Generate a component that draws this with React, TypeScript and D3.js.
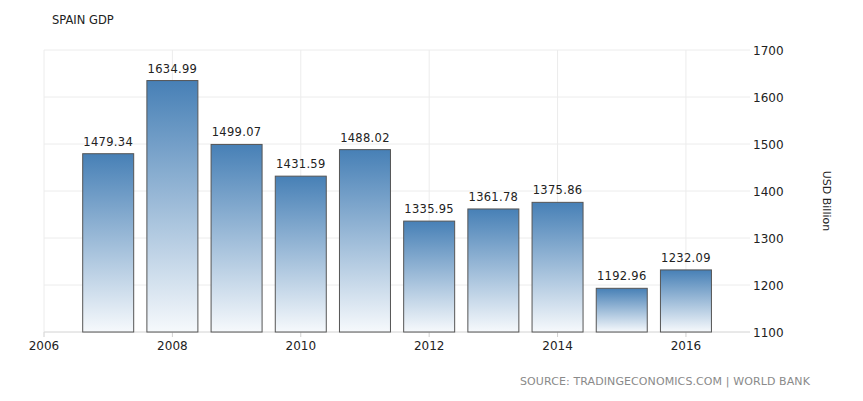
import React from "react";
import * as d3 from "d3";

const years = [2007, 2008, 2009, 2010, 2011, 2012, 2013, 2014, 2015, 2016];
const gdp = [1479.34, 1634.99, 1499.07, 1431.59, 1488.02, 1335.95, 1361.78, 1375.86, 1192.96, 1232.09];
const yTicks = [1100, 1200, 1300, 1400, 1500, 1600, 1700];
const xTicks = [2006, 2008, 2010, 2012, 2014, 2016];

const W = 863;
const H = 401;
const font = "'DejaVu Sans', Verdana, sans-serif";

export default function App() {
  const x = d3.scaleLinear().domain([2006, 2016.92]).range([44, 745]);
  const y = d3.scaleLinear().domain([1100, 1700]).range([332, 50]);
  const barW = 51;
  const data = years.map((yr, i) => ({ yr, v: gdp[i] }));
  return (
    <svg width={W} height={H} style={{ position: "absolute", left: 0, top: 0, background: "#fff" }}>
      <defs>
        <linearGradient id="barGrad" x1="0" y1="0" x2="0" y2="1">
          <stop offset="0%" stopColor="#4780b6" />
          <stop offset="100%" stopColor="#f6f9fc" />
        </linearGradient>
      </defs>
      <text x={52} y={24} fontFamily={font} fontSize={11.5} fill="#222">SPAIN GDP</text>
      {yTicks.map((t) => (
        <g key={t}>
          <line x1={44} x2={750} y1={y(t)} y2={y(t)} stroke="#ececec" strokeWidth={1} />
          <text x={753} y={y(t) + 4.5} fontFamily={font} fontSize={12} fill="#222">{t}</text>
        </g>
      ))}
      {xTicks.map((t) => (
        <g key={t}>
          <line x1={x(t)} x2={x(t)} y1={50} y2={332} stroke="#ececec" strokeWidth={1} />
          <line x1={x(t)} x2={x(t)} y1={332} y2={337} stroke="#d0d0d0" strokeWidth={1} />
          <text x={x(t)} y={350} textAnchor="middle" fontFamily={font} fontSize={12} fill="#222">{t}</text>
        </g>
      ))}
      <line x1={44} x2={750} y1={332} y2={332} stroke="#dcdcdc" strokeWidth={1} />
      {data.map((d) => (
        <g key={d.yr}>
          <rect
            x={x(d.yr) - barW / 2}
            y={y(d.v)}
            width={barW}
            height={y(1100) - y(d.v)}
            fill="url(#barGrad)"
            stroke="#555"
            strokeWidth={1}
          />
          <text
            x={x(d.yr)}
            y={y(d.v) - 8}
            textAnchor="middle"
            fontFamily={font}
            fontSize={11.5}
            letterSpacing={0.3}
            fill="#222"
          >
            {d.v.toFixed(2)}
          </text>
        </g>
      ))}
      <text
        transform={`translate(823,201) rotate(90)`}
        textAnchor="middle"
        fontFamily={font}
        fontSize={11}
        fill="#222"
      >
        USD Billion
      </text>
      <text x={810} y={385} textAnchor="end" fontFamily={font} fontSize={11} letterSpacing={0.1} fill="#8a8a8a">
        SOURCE: TRADINGECONOMICS.COM | WORLD BANK
      </text>
    </svg>
  );
}
